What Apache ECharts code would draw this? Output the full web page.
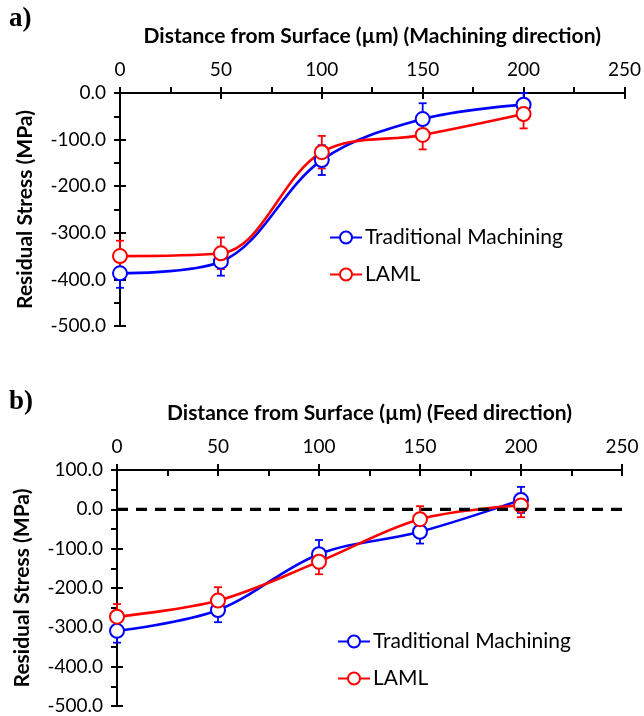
<!DOCTYPE html>
<html><head><meta charset="utf-8">
<script src="https://cdn.jsdelivr.net/npm/echarts@6/dist/echarts.min.js"></script>
<style>html,body{margin:0;padding:0;background:#fff}#c{width:644px;height:716px}</style>
</head><body><div id="c"></div>
<script>
// ---- data ----
const depth = [0, 50, 100, 150, 200];
// a) Machining direction
const machTrad    = [-387, -362, -144, -56, -25];
const machTradErr = [31, 30, 32, 34, 25];
const machLaml    = [-350, -344, -127, -90, -45];
const machLamlErr = [33, 34, 35, 31, 31];
// b) Feed direction
const feedTrad    = [-309, -256, -114, -57, 24];
const feedTradErr = [30, 31, 36, 30, 33];
const feedLaml    = [-273, -232, -133, -25, 10];
const feedLamlErr = [32, 34, 32, 33, 30];
// zero reference line of panel b: [x start, x end, y]
const zeroLine = [0, 250, 0];

const seriesNames = ['Traditional Machining', 'LAML'];
const xTitleA = 'Distance from Surface (\u00b5m) (Machining direction)';
const xTitleB = 'Distance from Surface (\u00b5m) (Feed direction)';
const yTitle = 'Residual Stress (MPa)';

// ---- helpers ----
const FONT = 'Lato';
const BLUE = '#0000ff', RED = '#ff0000';
const pts = v => depth.map((d, i) => [d, v[i]]);
const errData = (v, e) => depth.map((d, i) => [d, v[i] - e[i], v[i] + e[i]]);

function errRender(color) {
  return function (params, api) {
    const x = api.value(0), lo = api.value(1), hi = api.value(2);
    const p1 = api.coord([x, hi]), p2 = api.coord([x, lo]);
    const cw = 4;
    const st = { stroke: color, lineWidth: 1.8 };
    return { type: 'group', children: [
      { type: 'line', shape: { x1: p1[0], y1: p1[1], x2: p2[0], y2: p2[1] }, style: st },
      { type: 'line', shape: { x1: p1[0] - cw, y1: p1[1], x2: p1[0] + cw, y2: p1[1] }, style: st },
      { type: 'line', shape: { x1: p2[0] - cw, y1: p2[1], x2: p2[0] + cw, y2: p2[1] }, style: st }
    ]};
  };
}
function zeroRender(params, api) {
  const a = api.coord([api.value(0), api.value(2)]);
  const b = api.coord([api.value(1), api.value(2)]);
  return { type: 'line', shape: { x1: a[0], y1: a[1], x2: b[0], y2: b[1] },
    style: { stroke: '#000', lineWidth: 3.2, lineDash: [11, 8] } };
}

const axLine = { show: true, onZero: false, lineStyle: { color: '#000', width: 2 } };
const noLine = { show: false, onZero: false };
const tickOut = { show: true, length: 6, lineStyle: { color: '#000', width: 2 } };
const minorOn = { show: true, splitNumber: 2, length: 6, lineStyle: { color: '#000', width: 2 } };
const tickLabel = { color: '#000', fontFamily: FONT, fontSize: 19 };
const titleStyle = { color: '#000', fontFamily: FONT, fontWeight: 'bold', fontSize: 21 };

function xAxes(grid, title, minorOutside) {
  return [
    { type: 'value', gridIndex: grid, position: 'top', min: 0, max: 250, interval: 50,
      name: title, nameLocation: 'middle', nameGap: 46, nameTextStyle: titleStyle,
      axisLine: axLine, axisTick: tickOut,
      minorTick: minorOutside ? minorOn : { show: false },
      axisLabel: Object.assign({ margin: 14 }, tickLabel), splitLine: { show: false } },
    { type: 'value', gridIndex: grid, position: 'top', min: 0, max: 250, interval: 50,
      axisLine: noLine, axisTick: Object.assign({ inside: true }, tickOut),
      minorTick: minorOutside ? { show: false } : minorOn,
      axisLabel: { show: false }, splitLine: { show: false } }
  ];
}
function yAxes(grid, min, max) {
  return [
    { type: 'value', gridIndex: grid, position: 'left', min: min, max: max, interval: 100,
      name: yTitle, nameLocation: 'middle', nameGap: 84, nameRotate: 90, nameTextStyle: titleStyle,
      axisLine: axLine, axisTick: tickOut, minorTick: minorOn,
      axisLabel: Object.assign({ margin: 14, formatter: v => v.toFixed(1) }, tickLabel),
      splitLine: { show: false } },
    { type: 'value', gridIndex: grid, position: 'left', min: min, max: max, interval: 100,
      axisLine: noLine, axisTick: Object.assign({ inside: true }, tickOut),
      axisLabel: { show: false }, splitLine: { show: false } }
  ];
}

function lineSeries(name, data, color, xi, yi) {
  return {
    name: name, type: 'line', xAxisIndex: xi, yAxisIndex: yi, data: pts(data),
    smooth: 0.35, symbol: 'emptyCircle', symbolSize: 14,
    lineStyle: { color: color, width: 2.6 },
    itemStyle: { color: color, borderColor: color, borderWidth: 2.5 },
    color: color, z: 3
  };
}
function errSeries(name, v, e, color, xi, yi) {
  return { name: name + ' err', type: 'custom', xAxisIndex: xi, yAxisIndex: yi,
    data: errData(v, e), renderItem: errRender(color), z: 2, clip: false, silent: true };
}

const legendStyle = (left, top) => ({
  data: seriesNames, orient: 'vertical', left: left, top: top,
  itemWidth: 32, itemHeight: 15, itemGap: 16,
  textStyle: { color: '#000', fontFamily: FONT, fontSize: 21, padding: [0, 0, 0, -2] }
});

const option = {
  animation: false,
  backgroundColor: '#fff',
  grid: [
    { left: 120, right: 19, top: 93, height: 233 },
    { left: 117, right: 22, top: 470, height: 236 }
  ],
  xAxis: [...xAxes(0, xTitleA, true), ...xAxes(1, xTitleB, false)],
  yAxis: [...yAxes(0, -500, 0), ...yAxes(1, -500, 100)],
  legend: [legendStyle(324, 222), legendStyle(332, 626)],
  graphic: [
    { type: 'text', left: 9, top: 6, style: { text: 'a)', font: 'bold 27px "Liberation Serif"', fill: '#000' } },
    { type: 'text', left: 9, top: 389, style: { text: 'b)', font: 'bold 27px "Liberation Serif"', fill: '#000' } }
  ],
  series: [
    errSeries(seriesNames[0], machTrad, machTradErr, BLUE, 0, 0),
    lineSeries(seriesNames[0], machTrad, BLUE, 0, 0),
    errSeries(seriesNames[1], machLaml, machLamlErr, RED, 0, 0),
    lineSeries(seriesNames[1], machLaml, RED, 0, 0),
    errSeries(seriesNames[0], feedTrad, feedTradErr, BLUE, 2, 2),
    lineSeries(seriesNames[0], feedTrad, BLUE, 2, 2),
    errSeries(seriesNames[1], feedLaml, feedLamlErr, RED, 2, 2),
    lineSeries(seriesNames[1], feedLaml, RED, 2, 2),
    { name: 'zero', type: 'custom', xAxisIndex: 2, yAxisIndex: 2,
      data: [zeroLine], renderItem: zeroRender, silent: true, z: 5, clip: false }
  ]
};
echarts.init(document.getElementById('c')).setOption(option);
</script>
</body></html>
